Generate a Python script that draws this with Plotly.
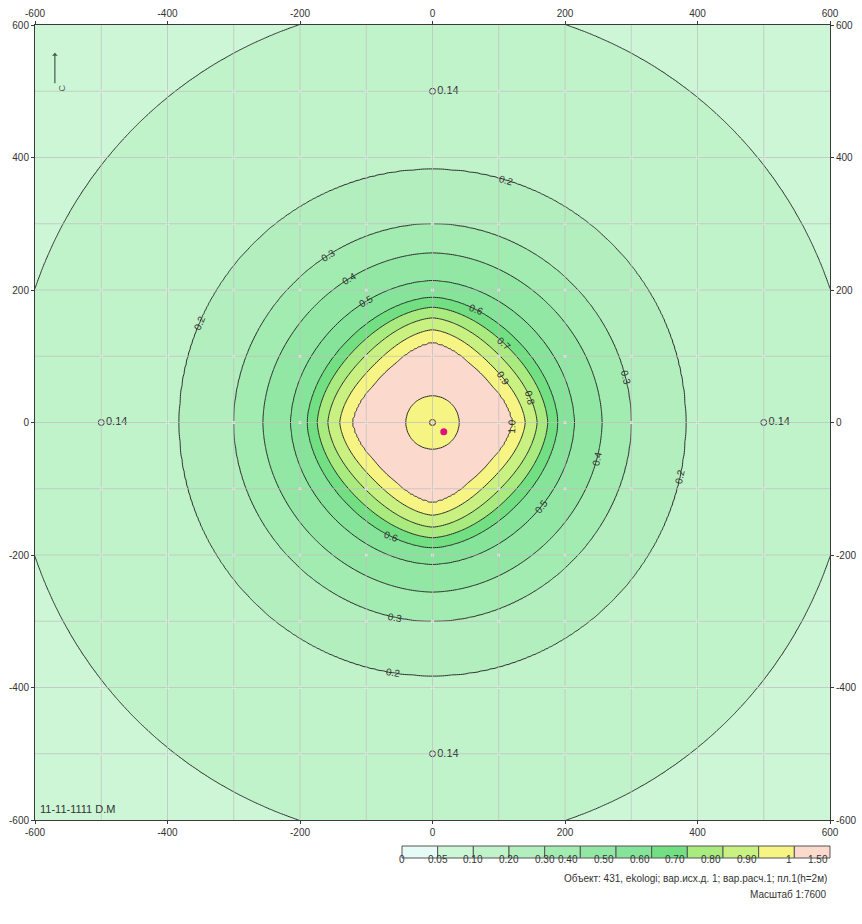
import numpy as np
import plotly.graph_objects as go

# ---- data ----
levels = [1.0, 0.9, 0.8, 0.7, 0.6, 0.5, 0.4, 0.3, 0.2, 0.1]
r_axis = [121, 140, 158, 174, 189, 214, 256, 300, 382, 633]   # contour radius along the axes (m)
r_diag = [104, 124, 143, 161, 178, 207, 250, 297, 382, 633]   # contour radius along the diagonals (m)
inner_r = 40          # small inner 1.0 ring around the source
center_val = 0.95
peak_val = 1.15
far_r = 1000
far_val = 0.04

band_bounds = [0, 0.05, 0.10, 0.20, 0.30, 0.40, 0.50, 0.60, 0.70, 0.80, 0.90, 1, 1.50]
band_labels = ["0", "0.05", "0.10", "0.20", "0.30", "0.40", "0.50", "0.60", "0.70", "0.80", "0.90", "1", "1.50"]
band_colors = ["#e6fbf6", "#cdf6d6", "#c0f3ca", "#b3efbe", "#a2ebb1", "#93e7a5", "#85e49a", "#72df82",
               "#aaeb80", "#c8f182", "#f6f584", "#fbd9cd"]

label_levels = [0.2, 0.2, 0.2, 0.2, 0.3, 0.3, 0.3, 0.4, 0.4, 0.5, 0.5, 0.6, 0.6, 0.7, 0.8, 0.9, 1.0]
label_angles = [73, 157, -99, -12.5, 122, 13, -101, 120, -12.6, 119, -37.6, 69, -110, 48, 14, 32, -3]

calc_x = [0, 500, 0, -500]
calc_y = [500, 0, -500, 0]
calc_text = ["0.14", "0.14", "0.14", "0.14"]
source_x = [0]
source_y = [0]
max_x = [17]
max_y = [-14]

tick_vals = [-600, -400, -200, 0, 200, 400, 600]
tick_text = ["-600", "-400", "-200", "0", "200", "400", "600"]
grid_vals = [-500, -400, -300, -200, -100, 0, 100, 200, 300, 400, 500]

info_line1 = "Объект: 431, ekologi; вар.исх.д. 1; вар.расч.1; пл.1(h=2м)"
info_line2 = "Масштаб 1:7600"
date_text = "11-11-1111 D.M"

# ---- field built from the read contour radii ----
P = 1.3
def contour_r(k, theta):
    u = np.abs(np.sin(2 * theta)) ** P
    return r_axis[k] + (r_diag[k] - r_axis[k]) * u

xs = np.linspace(-600, 600, 401)
ys = np.linspace(-600, 600, 401)
X, Y = np.meshgrid(xs, ys)
R = np.hypot(X, Y)
T = np.arctan2(Y, X)

r1 = contour_r(0, T)
node_r = [np.zeros_like(R), np.full_like(R, inner_r), (inner_r + r1) / 2]
node_v = [center_val, 1.0, peak_val]
for k in range(len(levels)):
    node_r.append(contour_r(k, T))
    node_v.append(levels[k])
node_r.append(np.full_like(R, far_r))
node_v.append(far_val)

Z = np.full_like(R, far_val)
for k in range(len(node_r) - 1):
    a, b = node_r[k], node_r[k + 1]
    m = (R >= a) & (R < b)
    t = (R - a) / np.maximum(b - a, 1e-9)
    Zk = node_v[k] + (node_v[k + 1] - node_v[k]) * t
    Z = np.where(m, Zk, Z)

Zidx = np.interp(Z, band_bounds, np.arange(len(band_bounds)))
Zidx = np.round(Zidx, 3)

n = len(band_colors)
colorscale = [[i / (n - 1), c] for i, c in enumerate(band_colors)]

FONT = "Liberation Sans, Arial, sans-serif"
fig = go.Figure()
fig.add_trace(go.Contour(
    x=xs, y=ys, z=Zidx,
    contours=dict(start=1, end=11, size=1, coloring="fill", showlabels=False),
    colorscale=colorscale, zmin=0, zmax=12, showscale=False,
    line=dict(color="#2b2b2b", width=1), hoverinfo="skip",
))

# grid lines over the fill
for v in grid_vals:
    fig.add_shape(type="line", x0=v, x1=v, y0=-600, y1=600, xref="x", yref="y",
                  line=dict(color="rgba(190,190,190,0.7)", width=1), layer="above")
    fig.add_shape(type="line", y0=v, y1=v, x0=-600, x1=600, xref="x", yref="y",
                  line=dict(color="rgba(190,190,190,0.7)", width=1), layer="above")

gx, gy = np.meshgrid(grid_vals, grid_vals)
fig.add_trace(go.Scatter(x=gx.ravel(), y=gy.ravel(), mode="markers", xaxis="x2", yaxis="y2",
                         marker=dict(size=3, color="white"), hoverinfo="skip", showlegend=False))

fig.add_trace(go.Scatter(x=calc_x, y=calc_y, mode="markers+text", text=calc_text,
                         textposition="middle right", textfont=dict(family=FONT, size=11, color="#333"),
                         marker=dict(symbol="circle-open", size=6, color="#444", line=dict(width=1)),
                         hoverinfo="skip", showlegend=False))
fig.add_trace(go.Scatter(x=source_x, y=source_y, mode="markers",
                         marker=dict(symbol="circle-open", size=6, color="#6a4a3a", line=dict(width=1.2)),
                         hoverinfo="skip", showlegend=False))
fig.add_trace(go.Scatter(x=max_x, y=max_y, mode="markers",
                         marker=dict(symbol="circle", size=7, color="#e0107a"),
                         hoverinfo="skip", showlegend=False))

# contour labels
for lv, ang in zip(label_levels, label_angles):
    k = levels.index(lv)
    th = np.deg2rad(ang)
    r = float(contour_r(k, th))
    ta = 90 - ang
    while ta > 90:
        ta -= 180
    while ta < -90:
        ta += 180
    fig.add_annotation(x=r * np.cos(th), y=r * np.sin(th), text=f"{lv:.1f}", showarrow=False,
                       textangle=ta, font=dict(family=FONT, size=10, color="#333"))

# date text and north arrow
fig.add_annotation(x=0.004, y=0.004, xref="paper", yref="paper", text=date_text, showarrow=False,
                   xanchor="left", yanchor="bottom", font=dict(family=FONT, size=11, color="#333"))
fig.add_annotation(x=0.025, y=0.965, xref="paper", yref="paper", ax=0, ay=32, text="",
                   showarrow=True, arrowhead=1, arrowsize=0.8, arrowwidth=1.2, arrowcolor="#3f5f4f")
fig.add_annotation(x=0.025, y=0.928, xref="paper", yref="paper", text="С", textangle=-90,
                   showarrow=False, font=dict(family=FONT, size=9, color="#3f5f4f"))

# legend bar below the plot
L0, L1 = (402 - 35) / 795, (830 - 35) / 795
Y0, Y1 = (820 - 858) / 795, (820 - 846) / 795
w = (L1 - L0) / n
for i, c in enumerate(band_colors):
    fig.add_shape(type="rect", xref="paper", yref="paper", x0=L0 + i * w, x1=L0 + (i + 1) * w,
                  y0=Y0, y1=Y1, fillcolor=c, line=dict(color="#555", width=1))
for i, t in enumerate(band_labels):
    fig.add_annotation(x=L0 + i * w, y=(820 - 867) / 795, xref="paper", yref="paper", text=t,
                       showarrow=False, font=dict(family=FONT, size=10, color="#333"))
fig.add_annotation(x=(829 - 35) / 795, y=(820 - 886) / 795, xref="paper", yref="paper", text=info_line1,
                   showarrow=False, xanchor="right", font=dict(family=FONT, size=10, color="#333"))
fig.add_annotation(x=(829 - 35) / 795, y=(820 - 902) / 795, xref="paper", yref="paper", text=info_line2,
                   showarrow=False, xanchor="right", font=dict(family=FONT, size=10, color="#333"))

ax_common = dict(range=[-600, 600], tickvals=tick_vals, ticktext=tick_text, showgrid=False, zeroline=False,
                 showline=True, linecolor="#3a3a3a", linewidth=1, ticks="outside", ticklen=3,
                 tickcolor="#3a3a3a", automargin=False,
                 tickfont=dict(family=FONT, size=10, color="#333"))
fig.update_layout(
    width=862, height=924, margin=dict(l=35, r=32, t=25, b=104),
    paper_bgcolor="white", plot_bgcolor="white", showlegend=False, hovermode=False,
    xaxis=dict(**ax_common, side="bottom"),
    yaxis=dict(**ax_common, side="left"),
    xaxis2=dict(**ax_common, side="top", overlaying="x", matches="x", anchor="y"),
    yaxis2=dict(**ax_common, side="right", overlaying="y", matches="y", anchor="x"),
)
fig.write_html("out.html", config={"displayModeBar": False, "staticPlot": True},
               post_script="document.body.style.margin='0';")
